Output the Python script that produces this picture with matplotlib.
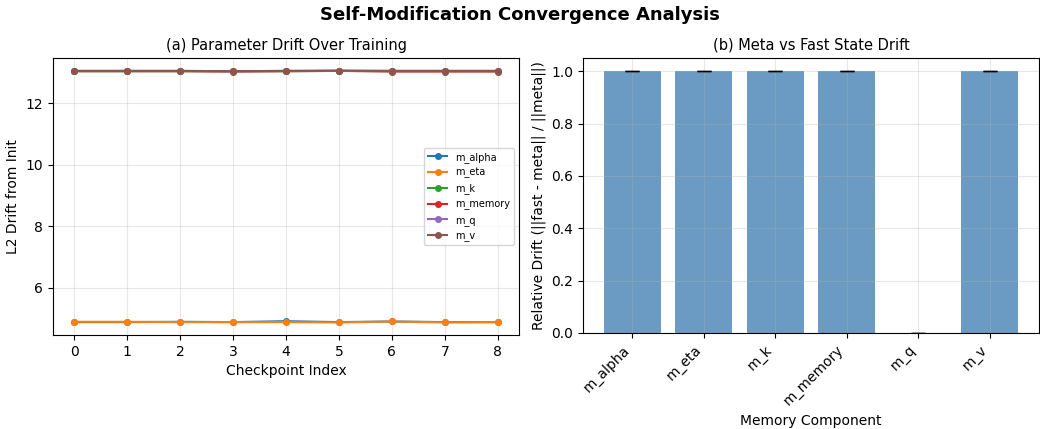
import matplotlib
matplotlib.use('Agg')
import matplotlib.pyplot as plt
from matplotlib.ticker import MultipleLocator
import numpy as np

# 检查点索引
checkpoints = list(range(9))

# 各参数相对初始值的 L2 漂移
drift_alpha = [4.89, 4.89, 4.90, 4.89, 4.92, 4.89, 4.91, 4.89, 4.89]
drift_eta = [4.90, 4.90, 4.89, 4.89, 4.89, 4.88, 4.91, 4.88, 4.89]
drift_k = [13.04, 13.04, 13.04, 13.04, 13.04, 13.05, 13.04, 13.04, 13.04]
drift_memory = [13.04, 13.04, 13.04, 13.03, 13.04, 13.05, 13.03, 13.03, 13.03]
drift_q = [13.05, 13.05, 13.05, 13.04, 13.05, 13.05, 13.05, 13.05, 13.05]
drift_v = [13.05, 13.05, 13.05, 13.04, 13.05, 13.06, 13.05, 13.05, 13.05]

# 元状态与快状态的相对漂移
components = ['m_alpha', 'm_eta', 'm_k', 'm_memory', 'm_q', 'm_v']
rel_drift = [1.0, 1.0, 1.0, 1.0, 0.0, 1.0]
rel_drift_err = [0.0005, 0.0005, 0.0005, 0.0005, 0.0, 0.0005]

series = [
    ('m_alpha', drift_alpha),
    ('m_eta', drift_eta),
    ('m_k', drift_k),
    ('m_memory', drift_memory),
    ('m_q', drift_q),
    ('m_v', drift_v),
]

W, H = 1040, 429
fig = plt.figure(figsize=(W / 100, H / 100), dpi=100)
ax1 = fig.add_axes([53 / W, 1 - 335 / H, 466 / W, 277 / H])
ax2 = fig.add_axes([583 / W, 1 - 333 / H, 456 / W, 275 / H])

# 左图：参数漂移
for name, vals in series:
    ax1.plot(checkpoints, vals, '-o', markersize=4, linewidth=1.5, label=name)
ax1.set_xlabel('Checkpoint Index')
ax1.set_ylabel('L2 Drift from Init')
ax1.set_title('(a) Parameter Drift Over Training', fontsize=10.5)
ax1.yaxis.set_major_locator(MultipleLocator(2))
ax1.legend(fontsize=7, loc='center right')
ax1.grid(True, alpha=0.3)

# 右图：相对漂移柱状图
x = np.arange(len(components))
ax2.bar(x, rel_drift, yerr=rel_drift_err, capsize=5, color='steelblue', alpha=0.8)
ax2.set_xticks(x)
ax2.set_xticklabels(components, rotation=45, ha='right')
ax2.set_xlabel('Memory Component')
ax2.set_ylabel('Relative Drift (||fast - meta|| / ||meta||)')
ax2.set_title('(b) Meta vs Fast State Drift', fontsize=10.5)
ax2.grid(True, alpha=0.3)

fig.suptitle('Self-Modification Convergence Analysis', fontsize=13, fontweight='bold', y=0.985)

plt.savefig('out.png', dpi=100)
plt.close()
